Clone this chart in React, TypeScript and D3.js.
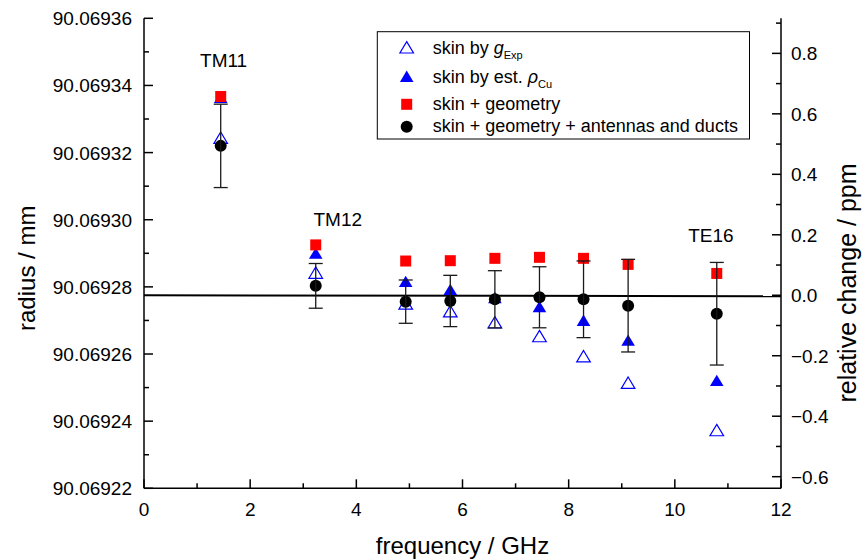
import React from "react";
import * as d3 from "d3";

// ---- data ----
const frequencies = [1.445, 3.235, 4.93, 5.77, 6.61, 7.45, 8.28, 9.12, 10.79];
const skinByGExp = [90.0693243, 90.0692841, 90.0692749, 90.0692726, 90.0692693, 90.0692652, 90.0692592, 90.0692513, 90.0692372];
const skinByRhoCu = [90.0693363, 90.0692899, 90.0692815, 90.0692791, 90.0692767, 90.069274, 90.0692699, 90.069264, 90.069252];
const skinGeometry = [90.0693367, 90.0692925, 90.0692877, 90.0692878, 90.0692885, 90.0692888, 90.0692885, 90.0692867, 90.069284];
const skinGeomAntennas = [90.069322, 90.0692803, 90.0692756, 90.0692758, 90.0692763, 90.0692769, 90.0692763, 90.0692744, 90.069272];
const errAntennas = [1.242e-5, 0.666e-5, 0.645e-5, 0.764e-5, 0.852e-5, 0.909e-5, 1.142e-5, 1.379e-5, 1.528e-5];

const refRadius = 90.0692775;
const fitLineX = [0, 12];
const fitLineY = [90.0692775, 90.0692772];

const modeLabels = ["TM11", "TM12", "TE16"];
const modeLabelFreq = [1.5, 3.65, 10.68];
const modeLabelRadius = [90.0693455, 90.0692980, 90.0692935];

const leftTicks = [90.06922, 90.06924, 90.06926, 90.06928, 90.0693, 90.06932, 90.06934, 90.06936];
const leftTickLabels = ["90.06922", "90.06924", "90.06926", "90.06928", "90.06930", "90.06932", "90.06934", "90.06936"];
const leftMinor = [90.06923, 90.06925, 90.06927, 90.06929, 90.06931, 90.06933, 90.06935];
const xTicks = [0, 2, 4, 6, 8, 10, 12];
const xMinor = [1, 3, 5, 7, 9, 11];
const rightTicks = [-0.6, -0.4, -0.2, 0.0, 0.2, 0.4, 0.6, 0.8];
const rightMinor = [-0.5, -0.3, -0.1, 0.1, 0.3, 0.5, 0.7, 0.9];

const FONT = "'Liberation Sans', Arial, Helvetica, sans-serif";

export default function App() {
  const W = 864, H = 559;
  const left = 144, right = 781, top = 18.3, bottom = 488.3;
  const x = d3.scaleLinear().domain([0, 12]).range([left, right]);
  const y = d3.scaleLinear().domain([90.06922, 90.06936]).range([bottom, top]);
  const ppmTop = ((90.06936 - refRadius) / refRadius) * 1e6;
  const ppmBot = ((90.06922 - refRadius) / refRadius) * 1e6;
  const yR = d3.scaleLinear().domain([ppmBot, ppmTop]).range([bottom, top]);

  const tri = (cx: number, cy: number) => `M${cx},${cy - 6.2}L${cx + 6.8},${cy + 5.2}L${cx - 6.8},${cy + 5.2}Z`;
  const line = d3.line<number>().x((d, i) => x(fitLineX[i])).y((d) => y(d));

  const blue = "#0000ff";
  const red = "#ff0000";

  return (
    <svg width={W} height={H} style={{ position: "absolute", left: 0, top: 0, display: "block", background: "#fff" }} fontFamily={FONT}>
      <rect x={0} y={0} width={W} height={H} fill="#fff" />
      {/* fit line */}
      <path d={line(fitLineY) || ""} stroke="#000" strokeWidth={2} fill="none" />

      {/* open triangles */}
      {frequencies.map((f, i) => (
        <path key={"o" + i} d={tri(x(f), y(skinByGExp[i]))} fill="none" stroke={blue} strokeWidth={1.2} />
      ))}
      {/* filled triangles */}
      {frequencies.map((f, i) => (
        <path key={"t" + i} d={tri(x(f), y(skinByRhoCu[i]))} fill={blue} stroke="none" />
      ))}
      {/* red squares */}
      {frequencies.map((f, i) => (
        <rect key={"s" + i} x={x(f) - 5.5} y={y(skinGeometry[i]) - 5.5} width={11} height={11} fill={red} />
      ))}
      {/* circles */}
      {frequencies.map((f, i) => (
        <circle key={"c" + i} cx={x(f)} cy={y(skinGeomAntennas[i])} r={6} fill="#000" />
      ))}
      {/* error bars */}
      {frequencies.map((f, i) => {
        const cx = x(f);
        const y1 = y(skinGeomAntennas[i] + errAntennas[i]);
        const y2 = y(skinGeomAntennas[i] - errAntennas[i]);
        return (
          <g key={"e" + i} stroke="#1a1a1a" strokeWidth={1.3}>
            <line x1={cx} x2={cx} y1={y1} y2={y2} />
            <line x1={cx - 7} x2={cx + 7} y1={y1} y2={y1} />
            <line x1={cx - 7} x2={cx + 7} y1={y2} y2={y2} />
          </g>
        );
      })}

      {/* mode labels */}
      {modeLabels.map((t, i) => (
        <text key={t} x={x(modeLabelFreq[i])} y={y(modeLabelRadius[i])} fontSize={19} textAnchor="middle" fill="#000">
          {t}
        </text>
      ))}

      {/* axes */}
      <g stroke="#000" strokeWidth={1.5} fill="none">
        <line x1={left} x2={left} y1={top} y2={bottom} />
        <line x1={right} x2={right} y1={top} y2={bottom} />
        <line x1={left} x2={right} y1={bottom} y2={bottom} />
        {leftTicks.map((v) => <line key={"lt" + v} x1={left} x2={left + 9} y1={y(v)} y2={y(v)} />)}
        {leftMinor.map((v) => <line key={"lm" + v} x1={left} x2={left + 5} y1={y(v)} y2={y(v)} />)}
        {xTicks.map((v) => <line key={"xt" + v} x1={x(v)} x2={x(v)} y1={bottom} y2={bottom - 9} />)}
        {xMinor.map((v) => <line key={"xm" + v} x1={x(v)} x2={x(v)} y1={bottom} y2={bottom - 5} />)}
        {rightTicks.map((v) => <line key={"rt" + v} x1={right} x2={right - 9} y1={yR(v)} y2={yR(v)} />)}
        {rightMinor.map((v) => <line key={"rm" + v} x1={right} x2={right - 5} y1={yR(v)} y2={yR(v)} />)}
      </g>
      <g fontSize={19} fill="#000">
        {leftTicks.map((v, i) => (
          <text key={"ll" + v} x={left - 12} y={y(v) + 7} textAnchor="end">{leftTickLabels[i]}</text>
        ))}
        {xTicks.map((v) => (
          <text key={"xl" + v} x={x(v)} y={bottom + 28} textAnchor="middle">{v}</text>
        ))}
        {rightTicks.map((v) => (
          <text key={"rl" + v} x={right + 10} y={yR(v) + 7} textAnchor="start">{d3.format(".1f")(v)}</text>
        ))}
      </g>
      <text x={(left + right) / 2} y={554} fontSize={24} textAnchor="middle" fill="#000">frequency / GHz</text>
      <text transform={`translate(35, ${(top + bottom) / 2 + 15}) rotate(-90)`} fontSize={24} textAnchor="middle" fill="#000">radius / mm</text>
      <text transform={`translate(856, 283) rotate(-90)`} fontSize={25} textAnchor="middle" fill="#000">relative change / ppm</text>

      {/* legend */}
      <rect x={377.3} y={31.7} width={372.2} height={107.3} fill="#fff" stroke="#000" strokeWidth={1} />
      <path d={tri(406.7, 47.8)} fill="none" stroke={blue} strokeWidth={1.2} />
      <path d={tri(406.7, 76.7)} fill={blue} />
      <rect x={406.7 - 5.5} y={104.3 - 5.5} width={11} height={11} fill={red} />
      <circle cx={406.7} cy={126.7} r={6} fill="#000" />
      <g fontSize={18} fill="#000">
        <text x={432.7} y={54.3}>
          skin by <tspan fontStyle="italic">g</tspan>
          <tspan fontSize={11} dy={5}>Exp</tspan>
        </text>
        <text x={432.7} y={82.7}>
          skin by est. <tspan fontStyle="italic">ρ</tspan>
          <tspan fontSize={11} dy={5}>Cu</tspan>
        </text>
        <text x={432.7} y={110}>skin + geometry</text>
        <text x={432.7} y={132.3}>skin + geometry + antennas and ducts</text>
      </g>
    </svg>
  );
}
